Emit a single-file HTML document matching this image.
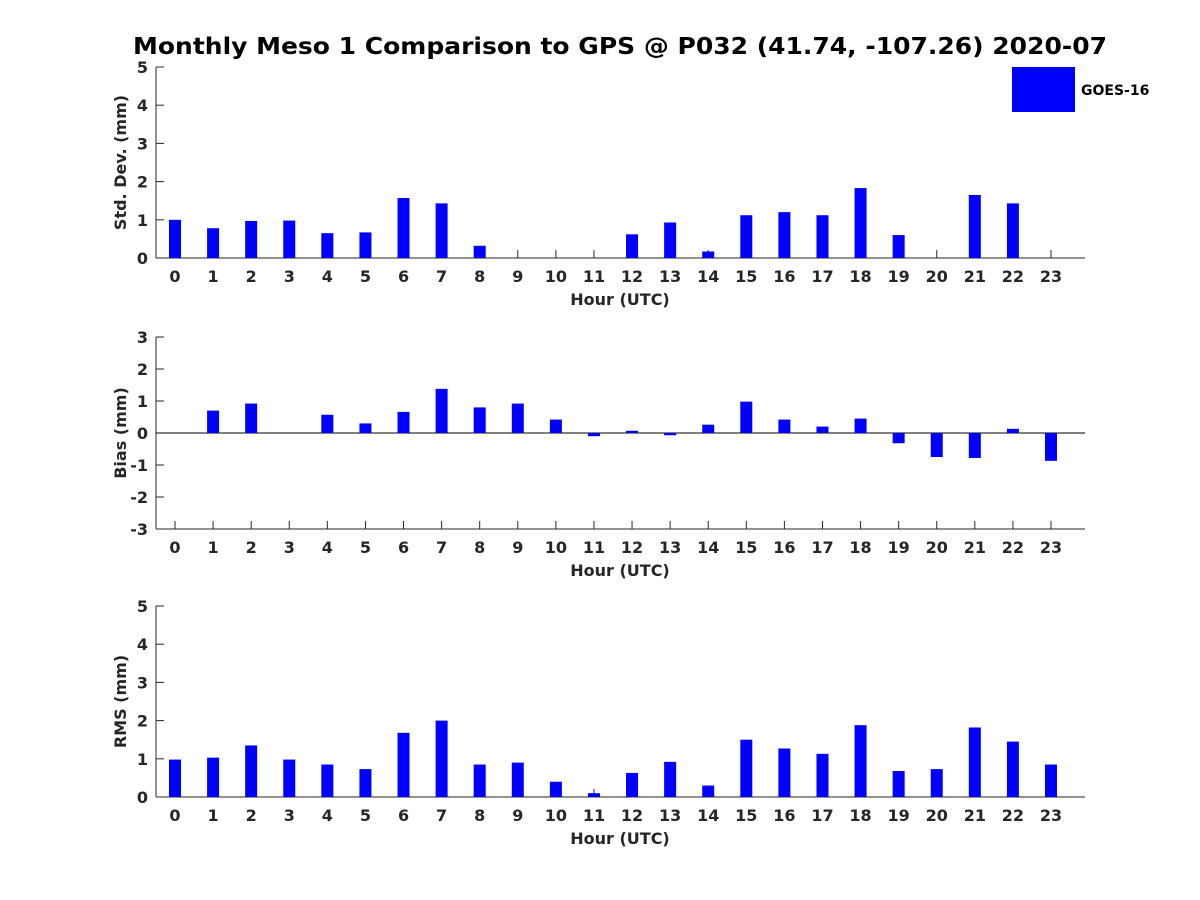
<!DOCTYPE html>
<html><head><meta charset="utf-8"><style>
body{margin:0;background:#fff}
svg{display:block;font-family:"DejaVu Sans","Liberation Sans",sans-serif;font-weight:bold}
</style></head><body>
<svg id="fig" width="1200" height="900" viewBox="0 0 1200 900">
<rect width="1200" height="900" fill="#fff"/>
<text x="620" y="54" text-anchor="middle" font-size="23" fill="#000" textLength="974" lengthAdjust="spacingAndGlyphs">Monthly Meso 1 Comparison to GPS @ P032 (41.74, -107.26) 2020-07</text>
<rect x="1012" y="67" width="63" height="45" fill="#0000ff"/>
<text x="1081" y="95" font-size="14" fill="#000">GOES-16</text>
</svg>
<script>
const hours=[0,1,2,3,4,5,6,7,8,9,10,11,12,13,14,15,16,17,18,19,20,21,22,23];
const stdVals=[1.0,0.78,0.97,0.98,0.65,0.67,1.57,1.43,0.32,0,0,0,0.62,0.93,0.17,1.12,1.2,1.12,1.83,0.6,0,1.65,1.43,0];
const biasVals=[0,0.7,0.92,0,0.57,0.3,0.66,1.38,0.8,0.92,0.42,-0.1,0.07,-0.07,0.26,0.98,0.42,0.2,0.45,-0.32,-0.75,-0.78,0.13,-0.87];
const rmsVals=[0.98,1.03,1.35,0.98,0.85,0.73,1.68,2.0,0.85,0.9,0.4,0.1,0.63,0.92,0.3,1.5,1.27,1.13,1.88,0.68,0.73,1.82,1.45,0.85];
const stdTicks=[0,1,2,3,4,5];
const biasTicks=[-3,-2,-1,0,1,2,3];
const rmsTicks=[0,1,2,3,4,5];
const NS='http://www.w3.org/2000/svg';
const svg=document.getElementById('fig');
const L=156,R=1085;
const x=h=>175+h*(1051-175)/23;
function mk(tag,attrs,parent){const e=document.createElementNS(NS,tag);for(const k in attrs)e.setAttribute(k,attrs[k]);(parent||svg).appendChild(e);return e;}
function panel(name,top,bot,ymin,ymax,vals,ticks,ylabel){
  const g=mk('g',{});
  
  
  const y=v=>bot-(v-ymin)/(ymax-ymin)*(bot-top);
  mk('line',{x1:L,y1:top,x2:L,y2:bot,stroke:'#262626','stroke-width':1},g);
  mk('line',{x1:L,y1:bot,x2:R,y2:bot,stroke:'#262626','stroke-width':1},g);
  ticks.forEach(t=>{
    mk('line',{x1:L,y1:y(t),x2:L+8,y2:y(t),stroke:'#262626'},g);
    const tx=mk('text',{x:L-8,y:y(t)+6,'text-anchor':'end','font-size':16,fill:'#262626'},g);
    tx.textContent=t;
    
    
  });
  if(ymin<0) mk('line',{x1:L,y1:y(0),x2:R,y2:y(0),stroke:'#000'},g);
  hours.forEach((h,i)=>{
    mk('line',{x1:x(h),y1:bot,x2:x(h),y2:bot-8,stroke:'#262626'},g);
    const tx=mk('text',{x:x(h),y:bot+24,'text-anchor':'middle','font-size':16,fill:'#262626'},g);
    tx.textContent=h;
    
    
    const v=vals[i];
    if(v!==0){
      const y0=y(0),y1=y(v);
      const b=mk('rect',{x:x(h)-6,y:Math.min(y0,y1),width:12,height:Math.abs(y1-y0),fill:'#0000ff'},g);
      
      
    }
  });
  const xl=mk('text',{x:620,y:bot+47,'text-anchor':'middle','font-size':16,fill:'#262626'},g);
  xl.textContent='Hour (UTC)';
  
  
  const cy=(top+bot)/2;
  const yl=mk('text',{x:126,y:cy,'text-anchor':'middle','font-size':16,fill:'#262626',transform:`rotate(-90 126 ${cy})`},g);
  yl.textContent=ylabel;
  
  
}
panel('std-dev',67,258,0,5,stdVals,stdTicks,'Std. Dev. (mm)');
panel('bias',337,529,-3,3,biasVals,biasTicks,'Bias (mm)');
panel('rms',606,797,0,5,rmsVals,rmsTicks,'RMS (mm)');
</script>
</body></html>
